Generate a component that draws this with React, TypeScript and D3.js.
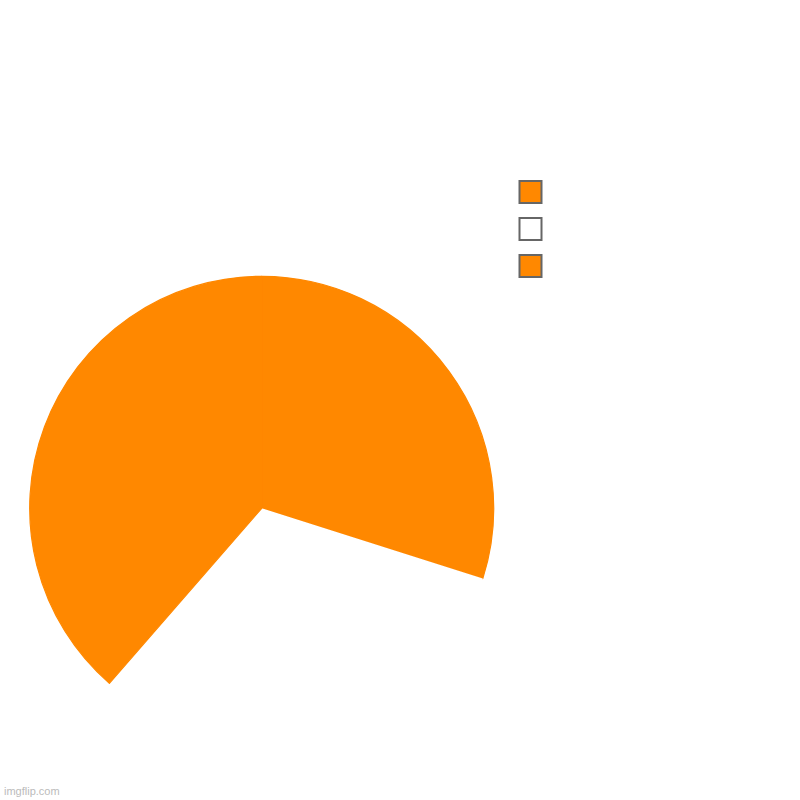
import React, { useRef, useEffect } from 'react';
import * as d3 from 'd3';

// slice values (clockwise from 12 o'clock)
const labels = ['', '', ''];
const values = [29.9, 31.5, 38.6];
const colors = ['#ff8800', '#ffffff', '#ff8800'];

function PieChart() {
  const svgRef = useRef<SVGSVGElement | null>(null);

  useEffect(() => {
    const svg = d3.select(svgRef.current);
    svg.selectAll('*').remove();

    const data = values.map((v, i) => ({ label: labels[i], value: v, color: colors[i] }));

    const pie = d3
      .pie<{ label: string; value: number; color: string }>()
      .sort(null)
      .value((d) => d.value);

    const arc = d3
      .arc<d3.PieArcDatum<{ label: string; value: number; color: string }>>()
      .innerRadius(0)
      .outerRadius(232);

    const g = svg.append('g').attr('transform', 'translate(261.7,508.3)');
    g.selectAll('path')
      .data(pie(data))
      .join('path')
      .attr('d', arc)
      .attr('fill', (d) => d.data.color)
      // same-colour stroke hides the hairline seam between neighbouring orange slices
      .attr('stroke', (d) => (d.data.color === '#ffffff' ? 'none' : d.data.color))
      .attr('stroke-width', 1.2)
      .attr('stroke-linejoin', 'round');

    // legend
    const legendY = d3.scaleBand<number>().domain(d3.range(data.length)).range([180, 291]);
    const legend = svg
      .selectAll('.legend')
      .data(data)
      .join('g')
      .attr('class', 'legend')
      .attr('transform', (_d, i) => `translate(519.5,${(legendY(i) as number) + 1})`);

    legend
      .append('rect')
      .attr('width', 22)
      .attr('height', 22)
      .attr('fill', (d) => d.color)
      .attr('stroke', '#666')
      .attr('stroke-width', 2);

    legend
      .append('text')
      .attr('x', 32)
      .attr('y', 16)
      .attr('font-family', 'Arial, Liberation Sans, sans-serif')
      .attr('font-size', 14)
      .attr('fill', '#666')
      .text((d) => d.label);

    svg
      .append('text')
      .attr('x', 4)
      .attr('y', 795)
      .attr('font-family', 'Arial, Liberation Sans, sans-serif')
      .attr('font-size', 11)
      .attr('fill', '#bbb')
      .text('imgflip.com');
  }, []);

  return (
    <svg
      ref={svgRef}
      width={800}
      height={800}
      style={{ position: 'absolute', left: 0, top: 0, background: '#fff' }}
    ></svg>
  );
}

export default function App() {
  return <PieChart />;
}
